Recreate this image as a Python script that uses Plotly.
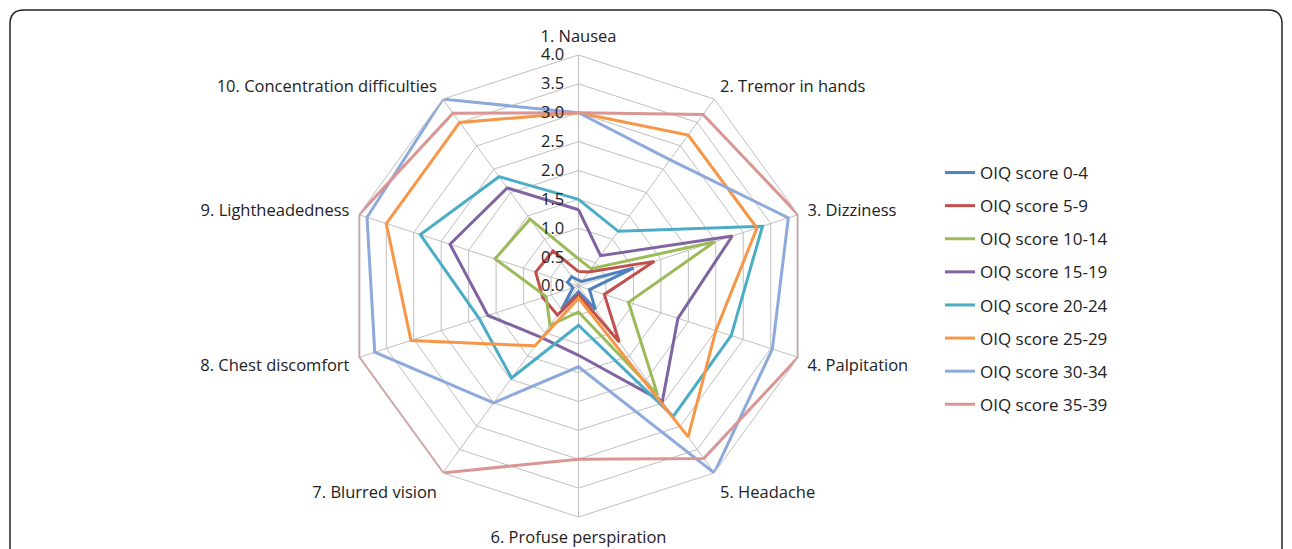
import plotly.graph_objects as go

symptoms = ["1. Nausea", "2. Tremor in hands", "3. Dizziness", "4. Palpitation",
            "5. Headache", "6. Profuse perspiration", "7. Blurred vision",
            "8. Chest discomfort", "9. Lightheadedness", "10. Concentration difficulties"]

score_groups = ["OIQ score 0-4", "OIQ score 5-9", "OIQ score 10-14", "OIQ score 15-19",
                "OIQ score 20-24", "OIQ score 25-29", "OIQ score 30-34", "OIQ score 35-39"]

oiq_0_4 = [0.1, 0.1, 1.0, 0.2, 0.5, 0.1, 0.5, 0.1, 0.2, 0.2]
oiq_5_9 = [0.25, 0.3, 1.38, 0.47, 1.2, 0.15, 0.62, 0.65, 0.78, 0.75]
oiq_10_14 = [0.47, 0.37, 2.48, 0.91, 2.33, 0.45, 0.84, 0.59, 1.52, 1.43]
oiq_15_19 = [1.32, 0.65, 2.8, 1.81, 2.47, 1.2, 1.1, 1.65, 2.34, 2.1]
oiq_20_24 = [1.5, 1.17, 3.35, 2.78, 2.79, 0.68, 1.97, 1.81, 2.88, 2.34]
oiq_25_29 = [3.0, 3.23, 3.25, 2.5, 3.23, 0.21, 1.28, 3.05, 3.5, 3.5]
oiq_30_34 = [3.0, 2.7, 3.82, 3.53, 4.0, 1.4, 2.5, 3.71, 3.85, 4.0]
oiq_35_39 = [3.0, 3.67, 4.0, 4.0, 3.69, 3.0, 4.0, 4.0, 4.0, 3.7]

series = [oiq_0_4, oiq_5_9, oiq_10_14, oiq_15_19, oiq_20_24, oiq_25_29, oiq_30_34, oiq_35_39]
colors = ["#4F81BD", "#C0504D", "#9BBB59", "#8064A2", "#4BACC6", "#F79646", "#8EA9DB", "#D99694"]

radial_ticks = [0, 0.5, 1.0, 1.5, 2.0, 2.5, 3.0, 3.5, 4.0]

font_family = "Open Sans, Noto Sans, sans-serif"

fig = go.Figure()

for i, (name, vals, col) in enumerate(zip(score_groups, series, colors)):
    fig.add_trace(go.Scatterpolar(
        r=vals + vals[:1],
        theta=symptoms + symptoms[:1],
        mode='lines',
        line=dict(color=col, width=3),
        name=name,
        legendgroup=str(i)
    ))

W, H = 1292, 549
off = 8  # page body margin of the html page
cx, cy, R = 578.5 - off, 286 - off, 231

fig.update_layout(
    width=W, height=H,
    margin=dict(l=0, r=0, t=0, b=0),
    paper_bgcolor='white',
    font=dict(family=font_family, size=16, color='#222222'),
    polar=dict(
        domain=dict(x=[(cx - R) / W, (cx + R) / W], y=[(H - cy - R) / H, (H - cy + R) / H]),
        bgcolor='white',
        gridshape='linear',
        angularaxis=dict(
            rotation=90,
            direction='clockwise',
            showline=True,
            linecolor='#BFBFBF',
            linewidth=1,
            gridcolor='#BFBFBF',
            gridwidth=1,
            ticks='outside',
            ticklen=6,
            tickcolor='rgba(0,0,0,0)',
            tickfont=dict(size=16.5),
        ),
        radialaxis=dict(
            range=[0, 4],
            tickvals=radial_ticks,
            tickformat='.1f',
            angle=90,
            tickangle=90,
            side='counterclockwise',
            showline=False,
            ticks='outside',
            ticklen=8,
            tickcolor='rgba(0,0,0,0)',
            gridcolor='#BFBFBF',
            gridwidth=1,
            tickfont=dict(size=16.5),
        ),
    ),
    legend=dict(
        x=(940 - off) / W, y=1 - (155 - off) / H, xanchor='left', yanchor='top',
        font=dict(size=17),
        itemwidth=30,
        tracegroupgap=8,
        bgcolor='rgba(0,0,0,0)'
    ),
)

# rounded frame around the chart (bottom edge falls outside the picture)
x0, x1 = (10 - off) / W, (1282 - off) / W
y_top = 1 - (10 - off) / H
y_bot = -0.2
rx, ry = 14 / W, 14 / H
frame = (f"M {x0},{y_bot} L {x0},{y_top - ry} Q {x0},{y_top} {x0 + rx},{y_top} "
         f"L {x1 - rx},{y_top} Q {x1},{y_top} {x1},{y_top - ry} L {x1},{y_bot}")
fig.add_shape(type='path', path=frame, xref='paper', yref='paper',
              line=dict(color='#222222', width=1.5))

fig.write_html("out.html")
